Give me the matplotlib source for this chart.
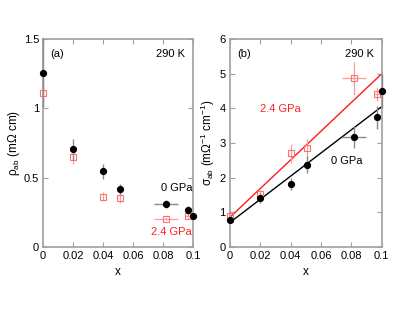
import matplotlib
matplotlib.use("Agg")
import matplotlib.pyplot as plt
import numpy as np

plt.rcParams['font.family'] = ['Liberation Sans', 'DejaVu Sans']
plt.rcParams['font.size'] = 8
plt.rcParams['mathtext.fontset'] = 'custom'
plt.rcParams['mathtext.rm'] = 'Liberation Sans'
plt.rcParams['mathtext.it'] = 'Liberation Sans'

# ---- data: resistivity (a) ----
x_rho_0 = [0.0, 0.02, 0.04, 0.051, 0.082, 0.097, 0.1]
rho_0 = [1.26, 0.704, 0.544, 0.416, 0.31, 0.262, 0.22]
rho_0_yerr = [0.25, 0.074, 0.055, 0.04, 0.03, 0.03, 0.01]
rho_0_xerr = [0.0, 0.0, 0.0, 0.0, 0.008, 0.0, 0.0]

x_rho_24 = [0.0, 0.02, 0.04, 0.051, 0.082, 0.097]
rho_24 = [1.115, 0.65, 0.363, 0.349, 0.202, 0.224]
rho_24_yerr = [0.12, 0.05, 0.03, 0.03, 0.01, 0.02]
rho_24_xerr = [0.0, 0.0, 0.0, 0.0, 0.008, 0.002]

# ---- data: conductivity (b) ----
x_sig_0 = [0.0, 0.02, 0.04, 0.051, 0.082, 0.097, 0.1]
sig_0 = [0.78, 1.40, 1.82, 2.37, 3.18, 3.74, 4.50]
sig_0_yerr = [0.05, 0.15, 0.17, 0.24, 0.32, 0.33, 0.5]
sig_0_xerr = [0.0, 0.0, 0.0, 0.002, 0.008, 0.0, 0.0]

x_sig_24 = [0.0, 0.02, 0.04, 0.051, 0.082, 0.097]
sig_24 = [0.88, 1.53, 2.70, 2.85, 4.87, 4.41]
sig_24_yerr = [0.05, 0.1, 0.27, 0.28, 0.48, 0.2]
sig_24_xerr = [0.0, 0.0, 0.0, 0.0, 0.008, 0.002]

# linear fits (intercept, slope)
fit_0 = [0.70, 33.5]
fit_24 = [0.85, 41.5]
fit_x = [0.0, 0.1]

fig = plt.figure(figsize=(4.15, 3.21), dpi=100)
axa = fig.add_axes([0.104, 0.2315, 0.361, 0.646])
axb = fig.add_axes([0.554, 0.2315, 0.3655, 0.646])

spine_col = '#a0a0a0'
blk_err = '#8a8a8a'
red_err = '#ff9a9a'
red_mk = '#ff7070'

def style(ax):
    for s in ax.spines.values():
        s.set_color(spine_col)
        s.set_linewidth(1.2)
    ax.tick_params(direction='in', top=True, right=True, length=3.5,
                   width=0.8, color=spine_col, labelsize=8, pad=3)

def draw(ax, x0, y0, ye0, xe0, x2, y2, ye2, xe2):
    ax.errorbar(x2, y2, yerr=ye2, xerr=xe2, fmt='s', ms=4.2, mfc='none',
                mec=red_mk, mew=0.8, ecolor=red_err, elinewidth=0.9,
                capsize=0, clip_on=False, zorder=3)
    ax.errorbar(x0, y0, yerr=ye0, xerr=xe0, fmt='o', ms=4.2, mfc='black',
                mec='black', ecolor=blk_err, elinewidth=1.0, capsize=0,
                clip_on=False, zorder=4)

# panel (a)
style(axa)
draw(axa, x_rho_0, rho_0, rho_0_yerr, rho_0_xerr,
     x_rho_24, rho_24, rho_24_yerr, rho_24_xerr)
axa.set_xlim(0, 0.1)
axa.set_ylim(0, 1.5)
axa.set_xticks([0, 0.02, 0.04, 0.06, 0.08, 0.1])
axa.set_xticklabels(['0', '0.02', '0.04', '0.06', '0.08', '0.1'])
axa.set_yticks([0, 0.5, 1, 1.5])
axa.set_yticklabels(['0', '0.5', '1', '1.5'])
axa.set_xlabel('x', labelpad=4, fontsize=8.5)
axa.set_ylabel(r'$\rho_{\rm ab}$ (m$\Omega$ cm)', labelpad=1, fontsize=8.5)
axa.text(0.05, 0.93, '(a)', transform=axa.transAxes, ha='left', va='center')
axa.text(0.95, 0.93, '290 K', transform=axa.transAxes, ha='right', va='center')
axa.text(0.0995, 0.425, '0 GPa', ha='right', va='center', color='black')
axa.text(0.0995, 0.108, '2.4 GPa', ha='right', va='center', color='#ff2020')

# panel (b)
style(axb)
fx = np.array(fit_x)
axb.plot(fx, fit_24[0] + fit_24[1] * fx, color='#ff1a1a', lw=1.0, zorder=2)
axb.plot(fx, fit_0[0] + fit_0[1] * fx, color='black', lw=1.0, zorder=2)
draw(axb, x_sig_0, sig_0, sig_0_yerr, sig_0_xerr,
     x_sig_24, sig_24, sig_24_yerr, sig_24_xerr)
axb.set_xlim(0, 0.1)
axb.set_ylim(0, 6)
axb.set_xticks([0, 0.02, 0.04, 0.06, 0.08, 0.1])
axb.set_xticklabels(['0', '0.02', '0.04', '0.06', '0.08', '0.1'])
axb.set_yticks([0, 1, 2, 3, 4, 5, 6])
axb.set_xlabel('x', labelpad=4, fontsize=8.5)
axb.set_ylabel(r'$\sigma_{\rm ab}$ (m$\Omega^{-1}$ cm$^{-1}$)', labelpad=2, fontsize=8.5)
axb.text(0.05, 0.93, '(b)', transform=axb.transAxes, ha='left', va='center')
axb.text(0.95, 0.93, '290 K', transform=axb.transAxes, ha='right', va='center')
axb.text(0.0465, 3.97, '2.4 GPa', ha='right', va='center', color='#ff2020')
axb.text(0.0665, 2.47, '0 GPa', ha='left', va='center', color='black')

fig.savefig('out.png', dpi=100)
